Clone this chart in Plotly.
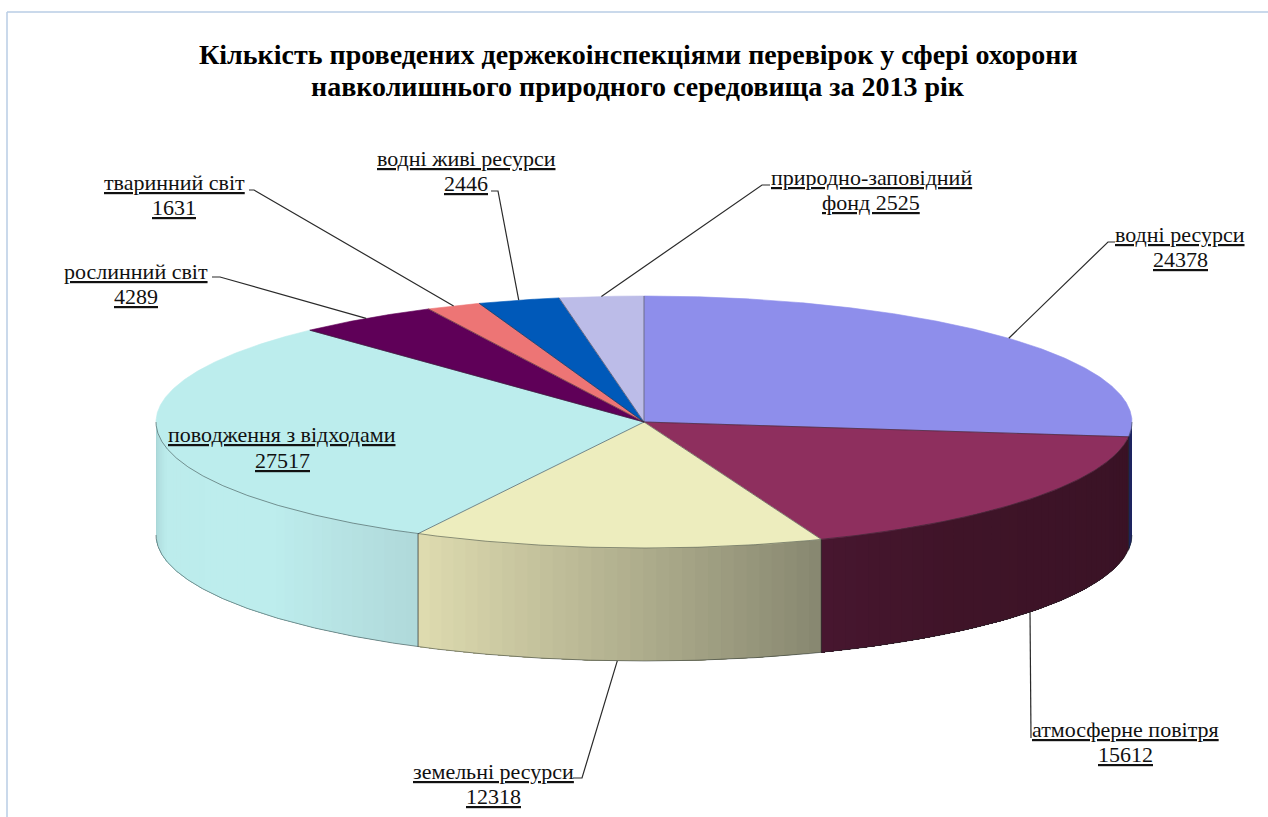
import numpy as np
import plotly.graph_objects as go

# ---------- data ----------
categories = ["водні ресурси", "атмосферне повітря", "земельні ресурси",
              "поводження з відходами", "рослинний світ", "тваринний світ",
              "водні живі ресурси", "природно-заповідний фонд"]
values = [24378, 15612, 12318, 27517, 4289, 1631, 2446, 2525]
title_lines = ["Кількість проведених держекоінспекціями перевірок у сфері охорони",
               "навколишнього природного середовища за 2013 рік"]

# ---------- style ----------
top_colors = ["#8E8EEB", "#8E2F5E", "#EDEDBE", "#BCEDED", "#5F0058", "#ED7575", "#0059B9", "#BCBCE8"]
wall_stops = [
    [(0.0, "#1E2560"), (1.0, "#1E2560")],
    [(0.0, "#391225"), (0.7, "#3F1428"), (1.0, "#47162F")],
    [(0.0, "#878770"), (1.0, "#DFDCB0")],
    [(0.0, "#B0D9DA"), (0.35, "#BDEDED"), (0.8, "#BCECEC"), (1.0, "#A6D2D3")],
]
CX, CY, RX, RY, DEPTH = 644, 422, 488, 126, 113

# label layout: centre x, first-line y, line gap, text lines, leader tail points
labels = [
    (1180, 234, 25, ["водні ресурси", "24378"], [(1115, 242), (1108, 242)], "top"),
    (1125, 729, 25, ["атмосферне повітря", "15612"], [(1031, 738)], "bottom"),
    (493, 771, 25, ["земельні ресурси", "12318"], [(573, 778), (582, 778)], "bottom"),
    (282, 434, 26, ["поводження з відходами", "27517"], None, None),
    (136, 271, 25, ["рослинний світ", "4289"], [(212, 277), (220, 277)], "top"),
    (174, 182, 25, ["тваринний світ", "1631"], [(249, 190), (254, 190)], "top"),
    (466, 158, 25, ["водні живі ресурси", "2446"], [(491, 191), (498, 191)], "top"),
    (871, 177, 25, ["природно-заповідний", "фонд 2525"], [(770, 185), (762, 185)], "top"),
]


def ex(t):
    return CX + RX * np.sin(np.radians(t))


def ey(t):
    return CY - RY * np.cos(np.radians(t))


def hex2rgb(h):
    return np.array([int(h[i:i + 2], 16) for i in (1, 3, 5)], float)


def shade(stops, f):
    xs = [s[0] for s in stops]
    rgb = [np.interp(f, xs, [hex2rgb(s[1])[k] for s in stops]) for k in range(3)]
    return "rgb(%d,%d,%d)" % tuple(int(round(v)) for v in rgb)


edges = np.concatenate([[0], np.cumsum(values)]) / sum(values) * 360
fig = go.Figure()


def poly(x, y, color, lw=0.6):
    fig.add_trace(go.Scatter(x=x, y=y, mode="lines", fill="toself", fillcolor=color,
                             line=dict(color=color, width=lw), hoverinfo="skip", showlegend=False))


def stroke(x, y, color="#222222", width=1.0):
    fig.add_trace(go.Scatter(x=x, y=y, mode="lines", line=dict(color=color, width=width),
                             hoverinfo="skip", showlegend=False))


# side walls, shaded in thin strips; each strip reaches to the slice end so
# the next one paints over it and no seams appear
for i, stops in enumerate(wall_stops):
    a, b = max(edges[i], 90), min(edges[i + 1], 270)
    n = max(2, int((b - a) / 1.5))
    ts = np.linspace(a, b, n + 1)
    for k in range(n):
        t = np.linspace(ts[k], b, max(4, (n - k) * 2))
        poly(np.r_[ex(t), ex(t[::-1])], np.r_[ey(t), ey(t[::-1]) + DEPTH],
             shade(stops, (k + 0.5) / n), lw=0)

# top faces
for i, color in enumerate(top_colors):
    t = np.arange(edges[i], edges[i + 1] + 0.25, 0.25)
    t[-1] = edges[i + 1]
    poly(np.r_[CX, ex(t), CX], np.r_[CY, ey(t), CY], color)

# slice dividers
for i, e in enumerate(edges[:-1]):
    stroke([CX, ex(e)], [CY, ey(e)], "rgba(40,40,50,0.65)", 0.8)

# wall verticals and outline of the front
for e in edges[1:4]:
    stroke([ex(e), ex(e)], [ey(e), ey(e) + DEPTH], "rgba(30,30,30,0.75)", 0.9)
t = np.arange(90, 270.25, 0.25)
stroke(ex(t), ey(t), "rgba(30,40,40,0.6)", 0.8)
stroke(ex(t), ey(t) + DEPTH, "rgba(30,40,40,0.6)", 0.8)

# leaders, anchored at each slice's mid angle on the rim
mids = (edges[:-1] + edges[1:]) / 2
for m, (cx, cy, gap, lines, tail, side) in zip(mids, labels):
    if tail:
        ay = ey(m) + (DEPTH if side == "bottom" else 0)
        stroke([p[0] for p in tail] + [ex(m)], [p[1] for p in tail] + [ay], "#2a2a2a", 1.2)

# frame
fig.add_shape(type="line", x0=7, y0=12, x1=1268, y1=12, line=dict(color="#B9CDE5", width=1.5))
fig.add_shape(type="line", x0=7, y0=12, x1=7, y1=817, line=dict(color="#B9CDE5", width=1.5))

# texts
for i, line in enumerate(title_lines):
    fig.add_annotation(x=638, y=54 + i * 32, text="<b>%s</b>" % line, showarrow=False,
                       xanchor="center", yanchor="middle",
                       font=dict(family="Liberation Serif", size=28, color="#000000"))
for cx, cy, gap, lines, tail, side in labels:
    for j, s in enumerate(lines):
        fig.add_annotation(x=cx, y=cy + j * gap, text="<u>%s</u>" % s, showarrow=False,
                           xanchor="center", yanchor="middle",
                           font=dict(family="Liberation Serif", size=22, color="#111111"))

fig.update_layout(
    width=1268, height=817, margin=dict(l=0, r=0, t=0, b=0),
    paper_bgcolor="white", plot_bgcolor="white", showlegend=False,
    xaxis=dict(range=[0, 1268], visible=False, fixedrange=True),
    yaxis=dict(range=[817, 0], visible=False, fixedrange=True),
)
fig.write_html("out.html", config=dict(displayModeBar=False),
               post_script="document.body.style.margin='0';document.body.style.overflow='hidden';")
